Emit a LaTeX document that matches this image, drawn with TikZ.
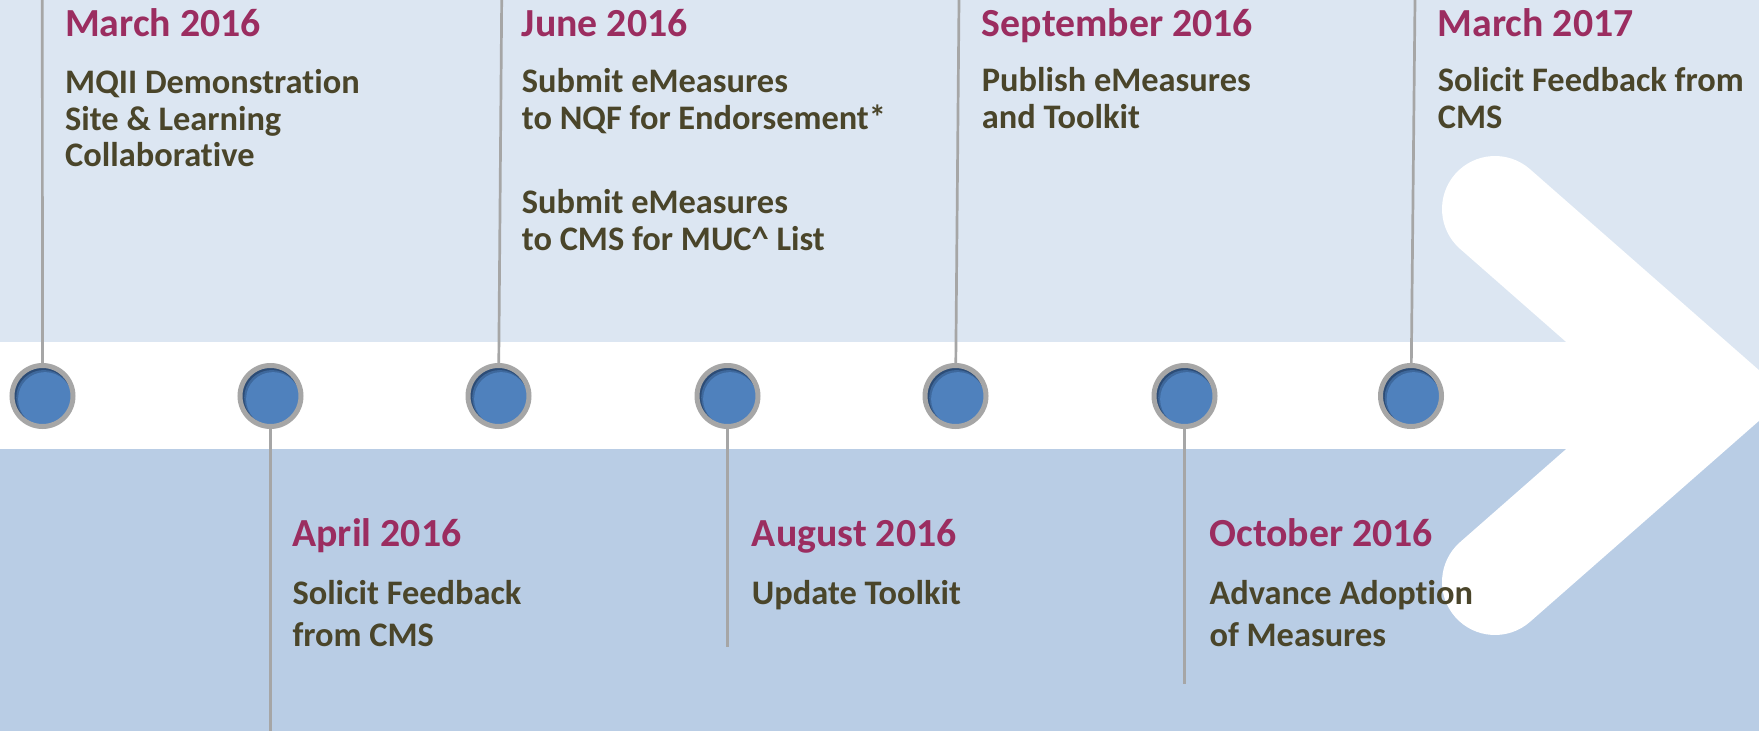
\documentclass[tikz,border=0pt]{standalone}
\usepackage{fontspec}
\setmainfont{Carlito}[Ligatures={NoCommon,NoRequired,NoContextual}, RawFeature={-liga;-dlig;-clig}]
\usetikzlibrary{calc}

\definecolor{bandtop}{RGB}{220,230,242}
\definecolor{bandbottom}{RGB}{185,205,229}
\definecolor{ringgray}{RGB}{166,166,166}
\definecolor{dotblue}{RGB}{79,129,189}
\definecolor{dotmid}{RGB}{62,104,156}
\definecolor{dotdark}{RGB}{44,76,118}
\definecolor{datecolor}{RGB}{155,45,96}
\definecolor{bodycolor}{RGB}{74,69,42}

\begin{document}
\begin{tikzpicture}[x=1pt,y=-1pt,
  dot/.style={circle, minimum size=61pt, inner sep=0pt, draw=ringgray,
    line width=5pt, fill=dotblue,
    path picture={
      \fill[dotdark] (path picture bounding box.center) circle[radius=40pt];
      \fill[dotmid] ($(path picture bounding box.center)+(1.2,1.5)$) circle[radius=27.5pt];
      \fill[dotblue] ($(path picture bounding box.center)+(2.6,3.1)$) circle[radius=27pt];
    }},
  stem/.style={draw=ringgray, line width=2.7pt},
  datelabel/.style={anchor=base west, inner sep=0pt, text=datecolor,
    font=\fontsize{39.8}{44}\selectfont\bfseries},
  upperbody/.style={anchor=base west, inner sep=0pt, text=bodycolor,
    font=\fontsize{34.4}{36.7}\selectfont\bfseries},
  lowerbody/.style={anchor=base west, inner sep=0pt, text=bodycolor,
    font=\fontsize{34.4}{42.8}\selectfont\bfseries}
]
\useasboundingbox (0,0) rectangle (1759,731);

% background bands
\fill[bandtop] (0,0) rectangle (1759,396);
\fill[bandbottom] (0,396) rectangle (1759,731);
\fill[white] (0,342) rectangle (1700,449);

% chevron arrow head
\draw[white, line width=106pt, line cap=round, line join=miter]
  (1495,209) -- (1707.5,395.5) -- (1495,582);

% milestone dots
\node[dot] (c1) at (42.5,396) {};
\node[dot] (c2) at (270.5,396) {};
\node[dot] (c3) at (498.5,396) {};
\node[dot] (c4) at (727.5,396) {};
\node[dot] (c5) at (955.5,396) {};
\node[dot] (c6) at (1184.5,396) {};
\node[dot] (c7) at (1411,396) {};

% stems
\coordinate (s1) at (42.3,0);
\coordinate (s3) at (501.7,0);
\coordinate (s5) at (959,0);
\coordinate (s7) at (1415,0);
\coordinate (s2) at (270.5,731);
\coordinate (s4) at (727.5,646.7);
\coordinate (s6) at (1184.5,684);
\draw[stem] (s1) -- (c1);
\draw[stem] (s3) -- (c3);
\draw[stem] (s5) -- (c5);
\draw[stem] (s7) -- (c7);
\draw[stem] (c2) -- (s2);
\draw[stem] (c4) -- (s4);
\draw[stem] (c6) -- (s6);

% upper labels
\node[datelabel] (d1) at (65,36.7) {March 2016};
\node[upperbody] (e1) at (65,93.3) {\parbox[t]{400pt}{MQII Demonstration\\Site \& Learning\\Collaborative}};

\node[datelabel] (d3) at (521.7,36.3) {June 2016};
\node[upperbody] (e3) at (521.7,92.7) {\parbox[t]{400pt}{Submit eMeasures\\to NQF for Endorsement*\\[47.3pt]Submit eMeasures\\to CMS for MUC\^{} List}};

\node[datelabel] (d5) at (981.7,36.3) {September 2016};
\node[upperbody] (e5) at (981.7,91.7) {\parbox[t]{400pt}{Publish eMeasures\\and Toolkit}};

\node[datelabel] (d7) at (1437.7,36.3) {March 2017};
\node[upperbody] (e7) at (1437.7,91.7) {\parbox[t]{400pt}{Solicit Feedback from\\CMS}};

% lower labels
\node[datelabel] (d2) at (292.3,546) {April 2016};
\node[lowerbody] (e2) at (292.3,604) {\parbox[t]{400pt}{Solicit Feedback\\from CMS}};

\node[datelabel] (d4) at (751.7,546) {August 2016};
\node[lowerbody] (e4) at (751.7,604) {\parbox[t]{400pt}{Update Toolkit}};

\node[datelabel] (d6) at (1209.3,546) {October 2016};
\node[lowerbody] (e6) at (1209.3,604) {\parbox[t]{400pt}{Advance Adoption\\of Measures}};
\end{tikzpicture}
\end{document}
